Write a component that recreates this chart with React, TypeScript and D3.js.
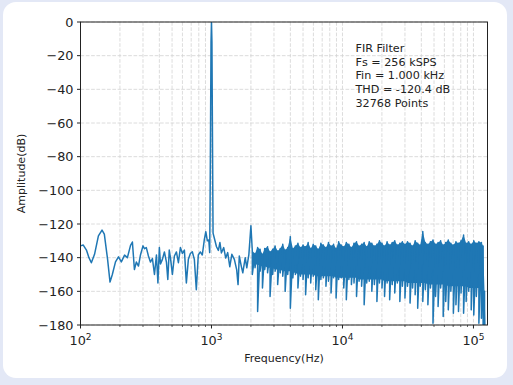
import React from 'react';
import * as d3 from 'd3';

// Low-frequency part of the spectrum (Hz, dB)
const lowFreq = [
  100, 105, 111, 116, 121, 128, 137, 146, 152, 161, 168, 175, 185, 195, 205, 217, 228, 241, 249, 258,
  267, 277, 287, 300, 308, 318, 330, 342, 354, 367, 380, 390, 400, 408, 422, 437, 453, 464, 476, 486,
  503, 521, 540, 559, 579, 600, 621, 643, 666, 690, 714, 740, 766, 793, 822, 851, 881, 905, 930, 954,
  969, 977, 984, 992, 1000, 1008, 1016, 1023, 1028, 1060, 1092, 1129, 1160, 1190, 1240, 1284, 1330, 1379, 1430, 1495,
  1558, 1595, 1630, 1688, 1734, 1810, 1860, 1930, 2000,
];
const lowDb = [
  -133, -132.5, -135.5, -140, -143, -138, -127, -123.6, -126, -141, -154.5, -150, -142.5, -139.5, -142.5, -138.5, -140, -132.7, -130.7, -147,
  -142.6, -145, -138.4, -133, -134.7, -134, -139, -142.6, -140.5, -150, -138.4, -155, -134, -143.8, -141, -136.6, -142.6, -153, -135.5, -140,
  -150, -139, -136.6, -143, -134, -137.5, -135.5, -155, -141, -137.5, -136.5, -141, -159, -138.4, -136.6, -138.4, -129.5, -124.6, -130, -129.5,
  -137, -100, -60, -12, 0, -12, -60, -100, -125.4, -129.5, -133.5, -135.7, -131, -137.2, -134, -140.2, -137, -145.4, -138, -141,
  -147.3, -156, -139, -145, -149, -140, -146, -138, -121,
];

// Dense high-frequency band: per frequency column, top, bottom and solid-core edge (dB)
const bandFreq = [
  2050, 2150, 2250, 2350, 2450, 2550, 2680, 2800, 2930, 3060, 3200, 3350, 3500, 3650, 3820, 4000, 4180, 4370, 4570, 4780,
  5000, 5230, 5470, 5720, 5980, 6250, 6540, 6840, 7150, 7480, 7820, 8180, 8550, 8940, 9350, 9780, 10230, 10700, 11190, 11700,
  12240, 12800, 13390, 14000, 14640, 15310, 16010, 16750, 17510, 18320, 19160, 20030, 20950, 21910, 22920, 23970, 25070, 26220, 27420, 28670,
  29990, 31360, 32800, 34300, 35880, 37520, 39240, 41040, 42920, 44890, 46950, 49100, 51350, 53700, 56160, 58740, 61430, 64240, 67190, 70270,
  73490, 76860, 80380, 84060, 87920, 91950, 96160, 100570, 105180, 110000, 115000, 118500, 121500, 124500, 127500,
];
const bandTop = [
  -136, -137.5, -134, -135, -138, -134.5, -133.5, -136.5, -135, -133, -136, -134.5, -132, -135.5, -134, -127.5, -134.5, -133, -131.5, -134,
  -132.5, -133.5, -131, -134.5, -132, -133, -135, -131.5, -132.5, -134, -131, -133, -132, -134.5, -130.5, -132.5, -133.5, -131, -132, -134,
  -131.5, -130.5, -133, -132, -131, -133.5, -130.5, -131.5, -133, -132, -130, -131.5, -133, -130.5, -132.5, -131, -130, -132.5, -131.5, -130.5,
  -132, -130.5, -131.5, -133, -130, -131.5, -132.5, -124.5, -131, -132, -130.5, -129.5, -132, -131, -130, -132.5, -131, -129.5, -131.5, -132.5,
  -130.5, -131.5, -130, -126.5, -131.5, -130.5, -132, -130, -131.5, -130.5, -131, -133, -160, -190, -205,
];
const bandBottom = [
  -150, -146, -172, -148, -158, -147, -149, -163, -150, -148, -156, -149, -151, -160, -150, -170, -152, -150, -158, -151,
  -153, -162, -152, -155, -151, -159, -165, -153, -152, -157, -154, -161, -152, -164, -153, -152, -158, -165, -153, -156,
  -155, -163, -154, -157, -168, -155, -154, -160, -156, -166, -155, -158, -163, -155, -165, -156, -161, -155, -166, -157,
  -164, -157, -167, -158, -162, -170, -157, -166, -159, -168, -158, -179, -163, -169, -158, -175, -166, -171, -160, -173,
  -168, -172, -161, -173, -166, -160, -171, -174, -163, -179, -176, -182, -195, -210, -215,
];
const bandCore = [
  -143, -144, -144, -145, -145, -145, -146, -146, -146, -147, -147, -147, -148, -148, -148, -148, -149, -149, -150, -150,
  -150, -150, -150, -150, -150, -151, -151, -151, -151, -151, -151, -151, -151, -152, -152, -152, -152, -152, -152, -152,
  -152, -152, -153, -153, -153, -153, -153, -153, -153, -153, -153, -153, -154, -154, -154, -154, -154, -154, -154, -154,
  -154, -155, -155, -155, -155, -155, -155, -155, -155, -156, -156, -156, -156, -156, -156, -156, -156, -157, -157, -157,
  -157, -157, -157, -157, -157, -158, -158, -158, -158, -158, -158, -158, -175, -200, -210,
];

const yTicks = [0, -20, -40, -60, -80, -100, -120, -140, -160, -180];
const xMajor = [100, 1000, 10000, 100000];
const xExp = ['2', '3', '4', '5'];
const xMinor = [
  200, 300, 400, 500, 600, 700, 800, 900,
  2000, 3000, 4000, 5000, 6000, 7000, 8000, 9000,
  20000, 30000, 40000, 50000, 60000, 70000, 80000, 90000,
];
const infoLines = ['FIR Filter', 'Fs = 256 kSPS', 'Fin = 1.000 kHz', 'THD = -120.4 dB', '32768 Points'];

const FONT = '"DejaVu Sans", sans-serif';
const BLUE = '#1f77b4';

export default function App() {
  const W = 513;
  const H = 385;
  const L = 80.5, R = 487.5, T = 22, B = 325;
  const x = d3.scaleLog().domain([100, 128000]).range([L, R]);
  const y = d3.scaleLinear().domain([-180, 0]).range([B, T]);

  const pts: [number, number][] = [];
  lowFreq.forEach((f, i) => pts.push([f, lowDb[i]]));
  bandFreq.forEach((f, i) => {
    pts.push([f, bandTop[i]]);
    pts.push([f, bandBottom[i]]);
  });
  const line = d3.line<[number, number]>().x(d => x(d[0])).y(d => y(d[1]));
  const area = d3
    .area<number>()
    .x(f => x(f))
    .y0((_, i) => y(bandCore[i]))
    .y1((_, i) => y(bandTop[i]));

  const minus = (v: number) => (v < 0 ? '\u2212' + Math.abs(v) : String(v));

  return (
    <svg width={W} height={H} style={{ position: 'absolute', left: 0, top: 0 }} fontFamily={FONT}>
      <rect x={0} y={0} width={W} height={H} fill="#e3e8f6" />
      <rect x={3} y={2} width={504} height={376} rx={13} fill="#ffffff" />
      <defs>
        <clipPath id="plotclip">
          <rect x={L} y={T} width={R - L} height={B - T} />
        </clipPath>
      </defs>
      {/* grid */}
      <g stroke="#d3d3d3" strokeWidth={0.8} strokeDasharray="3.7,1.6">
        {[...xMajor, ...xMinor].map(f => (
          <line key={'gx' + f} x1={x(f)} x2={x(f)} y1={T} y2={B} />
        ))}
        {yTicks.map(v => (
          <line key={'gy' + v} x1={L} x2={R} y1={y(v)} y2={y(v)} />
        ))}
      </g>
      {/* data */}
      <g clipPath="url(#plotclip)">
        <path d={area(bandFreq) || ''} fill={BLUE} stroke="none" />
        <path d={line(pts) || ''} fill="none" stroke={BLUE} strokeWidth={1.5} strokeLinejoin="round" />
      </g>
      {/* spines */}
      <rect x={L} y={T} width={R - L} height={B - T} fill="none" stroke="#222" strokeWidth={1} />
      {/* y ticks */}
      {yTicks.map(v => (
        <g key={'yt' + v}>
          <line x1={L - 3.5} x2={L} y1={y(v)} y2={y(v)} stroke="#222" strokeWidth={1} />
          <text x={L - 7} y={y(v)} dy="0.36em" textAnchor="end" fontSize={12.8} fill="#222">
            {minus(v)}
          </text>
        </g>
      ))}
      {/* x ticks */}
      {xMajor.map((f, i) => (
        <g key={'xt' + f}>
          <line x1={x(f)} x2={x(f)} y1={B} y2={B + 3.5} stroke="#222" strokeWidth={1} />
          <text x={x(f)} y={B + 20} textAnchor="middle" fontSize={12.8} fill="#222">
            10
            <tspan dy={-5} fontSize={9}>
              {xExp[i]}
            </tspan>
          </text>
        </g>
      ))}
      {xMinor.map(f => (
        <line key={'xm' + f} x1={x(f)} x2={x(f)} y1={B} y2={B + 2} stroke="#222" strokeWidth={0.7} />
      ))}
      {/* axis labels */}
      <text x={(L + R) / 2} y={362} textAnchor="middle" fontSize={11} fill="#222">
        Frequency(Hz)
      </text>
      <text
        transform={`translate(25, ${(T + B) / 2}) rotate(-90)`}
        textAnchor="middle"
        fontSize={11}
        fill="#222"
      >
        Amplitude(dB)
      </text>
      {/* annotation */}
      {infoLines.map((s, i) => (
        <text key={'info' + i} x={355.5} y={52 + i * 13.7} fontSize={11.2} fill="#222">
          {s}
        </text>
      ))}
    </svg>
  );
}
